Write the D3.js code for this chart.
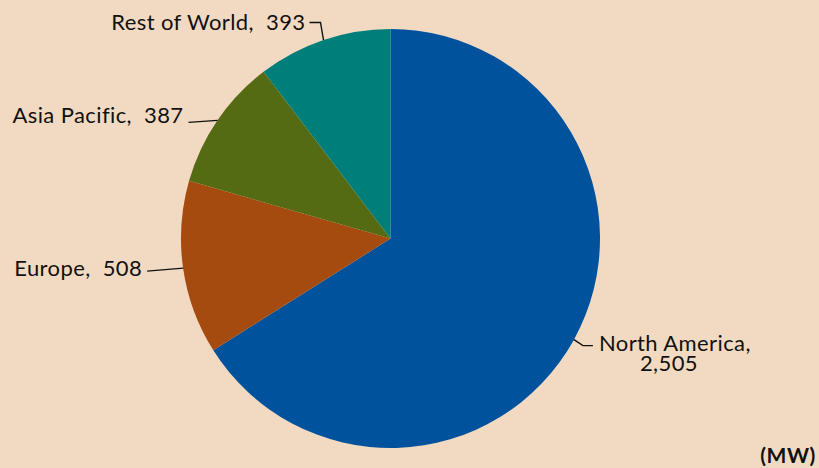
<!DOCTYPE html>
<html>
<head>
<meta charset="utf-8">
<script src="https://cdn.jsdelivr.net/npm/d3@7/dist/d3.min.js"></script>
<style>
  html, body { margin: 0; padding: 0; background: #F2DAC2; }
  svg { display: block; }
  text { font-family: Lato, "Noto Sans", sans-serif; fill: #111; white-space: pre; }
</style>
</head>
<body>
<script>
// Installed capacity by region (MW)
const regions = ["North America", "Europe", "Asia Pacific", "Rest of World"];
const capacityMW = [2505, 508, 387, 393];
const sliceColors = ["#00529C", "#A64B0F", "#556B13", "#007F7A"];
const unitLabel = "(MW)";

const width = 819, height = 468;
const cx = 390.5, cy = 238.5, radius = 209.5;
const labelSize = 22, labelSpacing = 0.4;

// Leader-line geometry per label, relative to the slice's outer edge point
const leaderLayout = [
  { elbow: [9, 6], end: [19, 6], anchor: "start", textDx: 6, textDy: 5, split: true },
  { elbow: null, end: [-36, 3], anchor: "end", textDx: -5, textDy: 5, split: false },
  { elbow: null, end: [-29, 2], anchor: "end", textDx: -5, textDy: 1, split: false },
  { elbow: [-3, -17.5], end: [-14, -17.5], anchor: "end", textDx: -4, textDy: 7, split: false }
];

const fmt = d3.format(",");
const data = regions.map((r, i) => ({ region: r, value: capacityMW[i], color: sliceColors[i], layout: leaderLayout[i] }));

const svg = d3.select("body").append("svg")
  .attr("width", width).attr("height", height);

svg.append("rect").attr("width", width).attr("height", height).attr("fill", "#F2DAC2");

const pie = d3.pie().sort(null).value(d => d.value);
const arc = d3.arc().innerRadius(0).outerRadius(radius);
const arcs = pie(data);

const g = svg.append("g").attr("transform", `translate(${cx},${cy})`);

g.selectAll("path.slice")
  .data(arcs)
  .join("path")
  .attr("class", "slice")
  .attr("d", arc)
  .attr("fill", d => d.data.color);

// Leader lines and labels
arcs.forEach(a => {
  const mid = (a.startAngle + a.endAngle) / 2;
  const p = [radius * Math.sin(mid), -radius * Math.cos(mid)];
  const L = a.data.layout;
  const pts = [p];
  if (L.elbow) pts.push([p[0] + L.elbow[0], p[1] + L.elbow[1]]);
  const end = [p[0] + L.end[0], p[1] + L.end[1]];
  pts.push(end);

  g.append("path")
    .attr("d", d3.line()(pts))
    .attr("fill", "none")
    .attr("stroke", "#111")
    .attr("stroke-width", 1.4);

  const tx = end[0] + L.textDx, ty = end[1] + L.textDy;
  const label = g.append("text")
    .attr("x", tx).attr("y", ty)
    .attr("text-anchor", L.anchor)
    .attr("font-size", labelSize)
    .attr("letter-spacing", labelSpacing);
  if (L.split) {
    // Two-line label: name on the first line, value centred below
    label.append("tspan")
      .attr("x", tx).attr("y", ty)
      .text(a.data.region + ",");
    label.append("tspan")
      .attr("x", tx + 70).attr("y", ty + 20)
      .attr("text-anchor", "middle")
      .text(fmt(a.data.value));
  } else {
    label.text(a.data.region + ",  " + fmt(a.data.value));
  }
});

svg.append("text")
  .attr("x", 816).attr("y", 463)
  .attr("text-anchor", "end")
  .attr("font-size", 21)
  .attr("font-weight", "bold")
  .attr("letter-spacing", 0.6)
  .text(unitLabel);
</script>
</body>
</html>
